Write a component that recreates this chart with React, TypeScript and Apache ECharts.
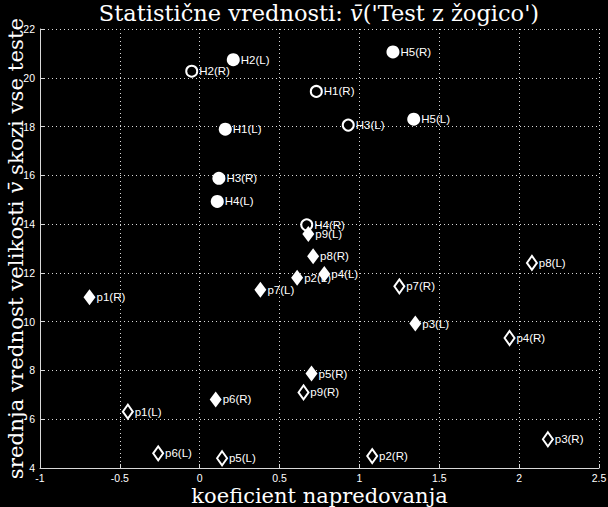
import { useEffect, useRef } from 'react';
import * as echarts from 'echarts';

// H-points drawn as circles, filled and hollow
const circleFilledNames = ['H1(L)', 'H2(L)', 'H3(R)', 'H4(L)', 'H5(L)', 'H5(R)'];
const circleFilledX = [0.16, 0.21, 0.12, 0.11, 1.34, 1.21];
const circleFilledY = [17.89, 20.74, 15.88, 14.93, 18.3, 21.06];

const circleHollowNames = ['H1(R)', 'H2(R)', 'H3(L)', 'H4(R)'];
const circleHollowX = [0.73, -0.05, 0.93, 0.67];
const circleHollowY = [19.44, 20.27, 18.06, 13.97];

// p-points drawn as diamonds, filled and hollow
const diamondFilledNames = ['p1(R)', 'p2(L)', 'p3(L)', 'p4(L)', 'p5(R)', 'p6(R)', 'p7(L)', 'p8(R)', 'p9(L)'];
const diamondFilledX = [-0.69, 0.61, 1.35, 0.78, 0.7, 0.1, 0.38, 0.71, 0.68];
const diamondFilledY = [11.0, 11.8, 9.92, 11.95, 7.87, 6.81, 11.31, 12.68, 13.59];

const diamondHollowNames = ['p1(L)', 'p2(R)', 'p3(R)', 'p4(R)', 'p5(L)', 'p6(L)', 'p7(R)', 'p8(L)', 'p9(R)'];
const diamondHollowX = [-0.45, 1.08, 2.18, 1.94, 0.14, -0.26, 1.25, 2.08, 0.65];
const diamondHollowY = [6.31, 4.49, 5.18, 9.33, 4.4, 4.6, 11.45, 12.41, 7.1];

const SANS = "'Liberation Sans', Arial, sans-serif";
const SERIF = "'DejaVu Serif', 'Liberation Serif', serif";

const toPoints = (names: string[], xs: number[], ys: number[]) =>
  names.map((name, i) => ({ name, value: [xs[i], ys[i]] }));

const pointLabel = {
  show: true,
  position: 'right' as const,
  distance: 1,
  formatter: '{b}',
  color: '#ffffff',
  fontSize: 11.5,
  fontFamily: SANS,
  opacity: 1,
};

export default function App() {
  const chartRef = useRef<HTMLDivElement>(null);

  useEffect(() => {
    if (!chartRef.current) return;
    const chart = echarts.init(chartRef.current, undefined, { renderer: 'svg' });

    const gridLine = {
      show: true,
      lineStyle: { color: '#d8d8d8', width: 1, type: [1, 3] as number[] },
    };

    const option: echarts.EChartsOption = {
      animation: false,
      backgroundColor: '#000000',
      title: {
        text: "Statistične vrednosti: {i|v̄}('Test z žogico')",
        left: 319,
        top: 1,
        padding: 0,
        textAlign: 'center',
        textStyle: {
          color: '#ffffff',
          fontSize: 22.5,
          fontWeight: 'normal',
          fontFamily: SERIF,
          rich: {
            i: { color: '#ffffff', fontSize: 22.5, fontStyle: 'italic', fontFamily: SERIF },
          },
        },
      },
      grid: {
        left: 40,
        right: 9,
        top: 29,
        bottom: 39,
        containLabel: false,
        outerBoundsMode: 'none',
      } as any,
      xAxis: {
        type: 'value',
        min: -1,
        max: 2.5,
        interval: 0.5,
        name: 'koeficient napredovanja',
        nameLocation: 'middle',
        nameGap: 17,
        nameMoveOverlap: false,
        nameTextStyle: { color: '#ffffff', fontSize: 21, lineHeight: 21, fontFamily: SERIF },
        axisLine: { show: true, onZero: false, lineStyle: { color: '#d8d8d8', width: 1 } },
        axisTick: { show: true, inside: true, length: 4, lineStyle: { color: '#d8d8d8' } },
        axisLabel: { color: '#ffffff', fontSize: 10.5, fontFamily: SANS, margin: 4 },
        splitLine: gridLine,
      } as any,
      yAxis: {
        type: 'value',
        min: 4,
        max: 22,
        interval: 2,
        name: "srednja vrednost velikosti {i|v̄} skozi vse teste",
        nameLocation: 'middle',
        nameGap: 14,
        nameMoveOverlap: false,
        nameTextStyle: {
          color: '#ffffff',
          fontSize: 21.3,
          fontFamily: SERIF,
          rich: {
            i: { color: '#ffffff', fontSize: 21.3, fontStyle: 'italic', fontFamily: SERIF },
          },
        },
        axisLine: { show: true, onZero: false, lineStyle: { color: '#d8d8d8', width: 1 } },
        axisTick: { show: true, inside: true, length: 4, lineStyle: { color: '#d8d8d8' } },
        axisLabel: { color: '#ffffff', fontSize: 10.5, fontFamily: SANS, margin: 5 },
        splitLine: gridLine,
      } as any,
      series: [
        {
          name: 'H filled',
          type: 'scatter',
          symbol: 'circle',
          symbolSize: 13,
          data: toPoints(circleFilledNames, circleFilledX, circleFilledY),
          itemStyle: { color: '#ffffff', opacity: 1 },
          label: pointLabel,
        },
        {
          name: 'H hollow',
          type: 'scatter',
          symbol: 'circle',
          symbolSize: 11,
          data: toPoints(circleHollowNames, circleHollowX, circleHollowY),
          itemStyle: { color: '#000000', borderColor: '#ffffff', borderWidth: 2, opacity: 1 },
          label: pointLabel,
        },
        {
          name: 'p hollow',
          type: 'scatter',
          symbol: 'diamond',
          symbolSize: [10, 14],
          data: toPoints(diamondHollowNames, diamondHollowX, diamondHollowY),
          itemStyle: { color: '#000000', borderColor: '#ffffff', borderWidth: 2, opacity: 1 },
          label: pointLabel,
        },
        {
          name: 'p filled',
          type: 'scatter',
          symbol: 'diamond',
          symbolSize: [12, 16],
          data: toPoints(diamondFilledNames, diamondFilledX, diamondFilledY),
          itemStyle: { color: '#ffffff', opacity: 1 },
          label: pointLabel,
        },
      ],
    };

    chart.setOption(option);

    return () => {
      chart.dispose();
    };
  }, []);

  return (
    <div
      style={{
        position: 'fixed',
        left: 0,
        top: 0,
        width: 608,
        height: 507,
        background: '#000000',
      }}
    >
      <div ref={chartRef} style={{ width: 608, height: 507 }} />
    </div>
  );
}
